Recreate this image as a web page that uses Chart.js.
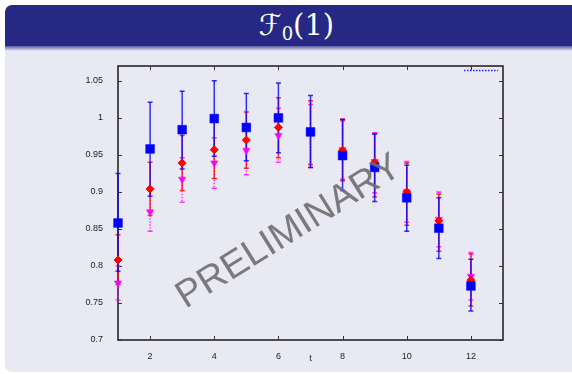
<!DOCTYPE html>
<html>
<head>
<meta charset="utf-8">
<script src="https://cdn.jsdelivr.net/npm/chart.js@4/dist/chart.umd.min.js"></script>
<style>
  html, body { margin: 0; padding: 0; background: #ffffff; }
  #wrap { position: relative; width: 572px; height: 374px; overflow: hidden; }
  #slide { position: absolute; left: 5px; top: 5px; width: 575px; height: 367px;
           background: #E9E9F3; border-radius: 7px; overflow: hidden; }
  #bar { position: absolute; left: 0; top: 0; width: 100%; height: 41px; background: #262883;
         color: #fff; text-align: center; font-family: "DejaVu Serif", "Liberation Serif", serif;
         font-size: 29px; line-height: 41px; }
  #bar .inner { position: relative; left: 4px; }
  #bar sub { font-size: 18px; vertical-align: -5px; }
  #shade { position: absolute; left: 0; top: 41px; width: 100%; height: 5px;
           background: linear-gradient(#5a5ca4, #E9E9F3); }
  canvas { position: absolute; left: 0; top: 0; }
</style>
</head>
<body>
<div id="wrap">
  <div id="slide">
    <div id="bar"><span class="inner"><i style="font-style:italic;font-family:'DejaVu Sans',serif">ℱ</i><sub>0</sub>(1)</span></div>
    <div id="shade"></div>
  </div>
  <canvas id="c" width="572" height="374"></canvas>
</div>
<script>
const tVals = [1, 2, 3, 4, 5, 6, 7, 8, 9, 10, 11, 12];

const blueY  = [0.858, 0.958, 0.984, 0.999, 0.987, 1.000, 0.981, 0.949, 0.933, 0.892, 0.851, 0.773];
const blueHi = [0.925, 1.021, 1.036, 1.050, 1.033, 1.047, 1.030, 0.998, 0.978, 0.936, 0.892, 0.809];
const blueLo = [0.793, 0.894, 0.931, 0.948, 0.942, 0.953, 0.933, 0.902, 0.887, 0.847, 0.810, 0.739];

const redY  = [0.808, 0.904, 0.939, 0.957, 0.970, 0.987, 0.981, 0.956, 0.940, 0.900, 0.861, 0.781];
const redHi = [0.842, 0.940, 0.976, 0.994, 1.008, 1.027, 1.023, 0.996, 0.979, 0.939, 0.897, 0.816];
const redLo = [0.775, 0.868, 0.902, 0.918, 0.932, 0.946, 0.937, 0.915, 0.893, 0.855, 0.820, 0.746];

const magY  = [0.777, 0.873, 0.917, 0.939, 0.956, 0.976, 0.981, 0.957, 0.941, 0.900, 0.863, 0.786];
const magHi = [0.800, 0.905, 0.946, 0.973, 0.990, 1.013, 1.018, 0.998, 0.980, 0.941, 0.900, 0.818];
const magLo = [0.754, 0.847, 0.886, 0.905, 0.923, 0.940, 0.933, 0.917, 0.899, 0.859, 0.826, 0.754];

const xTicks = [2, 4, 6, 8, 10, 12];
const yTicks = [0.7, 0.75, 0.8, 0.85, 0.9, 0.95, 1, 1.05];
const yTickLabels = ["0.7", "0.75", "0.8", "0.85", "0.9", "0.95", "1", "1.05"];
const xTitle = "t";
const watermark = "PRELIMINARY";

function pts(ys) { return tVals.map((t, i) => ({ x: t, y: ys[i] })); }

const series = [
  { key: 'mag',  y: magY,  hi: magHi,  lo: magLo,  color: 'rgba(255,0,255,0.75)', dash: [1.5, 1.5] },
  { key: 'red',  y: redY,  hi: redHi,  lo: redLo,  color: 'rgba(255,0,0,0.8)', dash: [] },
  { key: 'blue', y: blueY, hi: blueHi, lo: blueLo, color: 'rgba(0,0,255,0.8)', dash: [] }
];

const FONT = '"Liberation Sans", Arial, sans-serif';

const decor = {
  id: 'decor',
  beforeDatasetsDraw(chart) {
    const { ctx, chartArea: a, scales: { x, y } } = chart;
    ctx.save();
    ctx.strokeStyle = '#1a1a1a';
    ctx.lineWidth = 1.5;
    ctx.strokeRect(a.left, a.top, a.right - a.left, a.bottom - a.top);
    ctx.lineWidth = 1;
    ctx.strokeStyle = '#333';
    ctx.beginPath();
    xTicks.forEach(v => {
      const px = Math.round(x.getPixelForValue(v)) + 0.5;
      ctx.moveTo(px, a.bottom); ctx.lineTo(px, a.bottom - 4);
      ctx.moveTo(px, a.top); ctx.lineTo(px, a.top + 4);
    });
    yTicks.forEach(v => {
      const py = Math.round(y.getPixelForValue(v)) + 0.5;
      ctx.moveTo(a.left, py); ctx.lineTo(a.left + 4, py);
      ctx.moveTo(a.right, py); ctx.lineTo(a.right - 4, py);
    });
    ctx.stroke();
    series.forEach(s => {
      ctx.strokeStyle = s.color;
      ctx.lineWidth = 1.5;
      tVals.forEach((t, i) => {
        const px = x.getPixelForValue(t);
        const ph = y.getPixelForValue(s.hi[i]);
        const pl = y.getPixelForValue(s.lo[i]);
        ctx.setLineDash(s.dash);
        ctx.beginPath();
        ctx.moveTo(px, ph); ctx.lineTo(px, pl);
        ctx.stroke();
        ctx.setLineDash([]);
        ctx.beginPath();
        ctx.moveTo(px - 2.5, ph); ctx.lineTo(px + 2.5, ph);
        ctx.moveTo(px - 2.5, pl); ctx.lineTo(px + 2.5, pl);
        ctx.stroke();
      });
    });
    ctx.restore();
  },
  afterDatasetsDraw(chart) {
    const { ctx, chartArea: a } = chart;
    ctx.save();
    ctx.strokeStyle = '#2020ff';
    ctx.lineWidth = 1.3;
    ctx.setLineDash([1.5, 1.5]);
    ctx.beginPath();
    ctx.moveTo(a.right - 39, a.top + 4.5);
    ctx.lineTo(a.right - 5, a.top + 4.5);
    ctx.stroke();
    ctx.setLineDash([]);
    ctx.fillStyle = '#222';
    ctx.font = '9px ' + FONT;
    ctx.textAlign = 'center';
    ctx.textBaseline = 'middle';
    ctx.fillText(xTitle, (a.left + a.right) / 2, a.bottom + 19);
    ctx.translate(289, 232);
    ctx.rotate(-32 * Math.PI / 180);
    ctx.font = '38px ' + FONT;
    ctx.fillStyle = 'rgba(110,110,110,0.9)';
    ctx.fillText(watermark, 0, 0);
    ctx.restore();
  }
};

new Chart(document.getElementById('c'), {
  type: 'scatter',
  data: {
    datasets: [
      { label: 'blue', data: pts(blueY), order: 0, pointStyle: 'rect', pointRadius: 6.2,
        backgroundColor: '#0000ff', borderColor: '#0000ff', borderWidth: 0.5, clip: false },
      { label: 'red', data: pts(redY), order: 1, pointStyle: 'rectRot', pointRadius: 4,
        backgroundColor: '#ff0000', borderColor: '#ff0000', borderWidth: 1, clip: false },
      { label: 'mag', data: pts(magY), order: 2, pointStyle: 'triangle', rotation: 180, pointRadius: 4.2,
        backgroundColor: '#ff00ff', borderColor: '#ff00ff', borderWidth: 0.5, clip: false }
    ]
  },
  options: {
    responsive: false,
    animation: false,
    devicePixelRatio: 1,
    layout: { padding: { left: 0, top: 66, right: 69, bottom: 0 } },
    plugins: { legend: { display: false }, tooltip: { enabled: false } },
    scales: {
      x: {
        type: 'linear', min: 1, max: 13,
        afterBuildTicks: s => { s.ticks = xTicks.map(v => ({ value: v })); },
        afterFit: s => { s.height = 34; },
        grid: { display: false }, border: { display: false },
        ticks: { color: '#222', font: { size: 9, family: FONT }, padding: 3, maxRotation: 0, autoSkip: false }
      },
      y: {
        type: 'linear', min: 0.7, max: 1.07,
        afterBuildTicks: s => { s.ticks = yTicks.map(v => ({ value: v })); },
        afterFit: s => { s.width = 118; },
        grid: { display: false }, border: { display: false },
        ticks: { color: '#222', font: { size: 9, family: FONT }, padding: 7, autoSkip: false,
                 callback: (v, i) => yTickLabels[i] }
      }
    }
  },
  plugins: [decor]
});
</script>
</body>
</html>
